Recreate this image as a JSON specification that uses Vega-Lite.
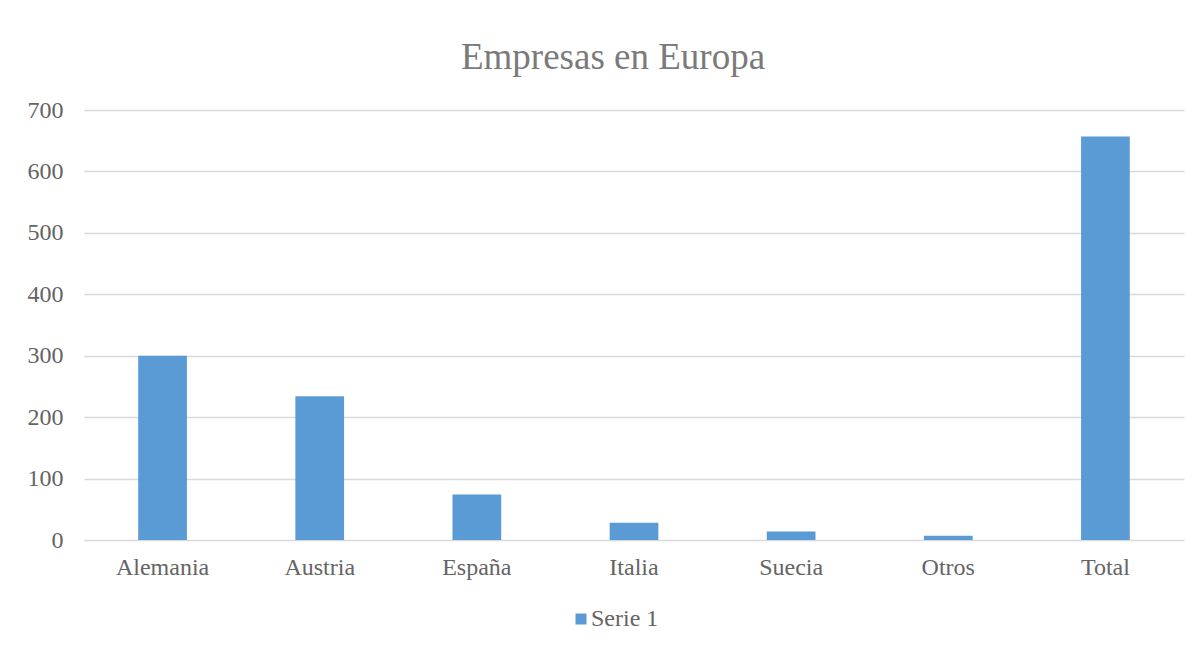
{
  "$schema": "https://vega.github.io/schema/vega-lite/v6.json",
  "width": 1100,
  "height": 430,
  "autosize": {"type": "none"},
  "padding": {"left": 84, "top": 110, "right": 14, "bottom": 110},
  "background": "white",
  "data": {
    "values": [
      {"pais": "Alemania", "empresas": 300, "serie": "Serie 1"},
      {"pais": "Austria", "empresas": 234, "serie": "Serie 1"},
      {"pais": "España", "empresas": 74, "serie": "Serie 1"},
      {"pais": "Italia", "empresas": 28, "serie": "Serie 1"},
      {"pais": "Suecia", "empresas": 14, "serie": "Serie 1"},
      {"pais": "Otros", "empresas": 7, "serie": "Serie 1"},
      {"pais": "Total", "empresas": 657, "serie": "Serie 1"}
    ]
  },
  "title": {
    "text": "Empresas en Europa",
    "font": "Liberation Serif",
    "fontSize": 37,
    "fontWeight": "normal",
    "color": "#7a7a7a",
    "anchor": "middle",
    "baseline": "alphabetic",
    "offset": 40,
    "dx": -21,
    "dy": 48
  },
  "mark": {"type": "bar", "color": "#5B9BD5"},
  "encoding": {
    "x": {
      "field": "pais",
      "type": "nominal",
      "sort": null,
      "scale": {"paddingInner": 0.69, "paddingOuter": 0.345},
      "axis": {
        "title": null,
        "labelAngle": 0,
        "labelFont": "Liberation Serif",
        "labelFontSize": 24,
        "labelColor": "#646464",
        "labelPadding": 15,
        "ticks": false,
        "domain": false
      }
    },
    "y": {
      "field": "empresas",
      "type": "quantitative",
      "scale": {"domain": [0, 700]},
      "axis": {
        "title": null,
        "values": [0, 100, 200, 300, 400, 500, 600, 700],
        "labelFont": "Liberation Serif",
        "labelFontSize": 24,
        "labelColor": "#646464",
        "labelPadding": 21,
        "ticks": false,
        "domain": false,
        "grid": true,
        "gridColor": "#d9d9d9",
        "gridWidth": 1.3
      }
    },
    "color": {
      "field": "serie",
      "type": "nominal",
      "scale": {"range": ["#5B9BD5"]},
      "legend": {
        "title": null,
        "orient": "none",
        "legendX": 485,
        "legendY": 497,
        "symbolType": "square",
        "symbolSize": 121,
        "symbolStrokeWidth": 0,
        "labelFont": "Liberation Serif",
        "labelFontSize": 24,
        "labelColor": "#646464",
        "labelOffset": -2
      }
    }
  },
  "config": {"view": {"stroke": null}}
}
